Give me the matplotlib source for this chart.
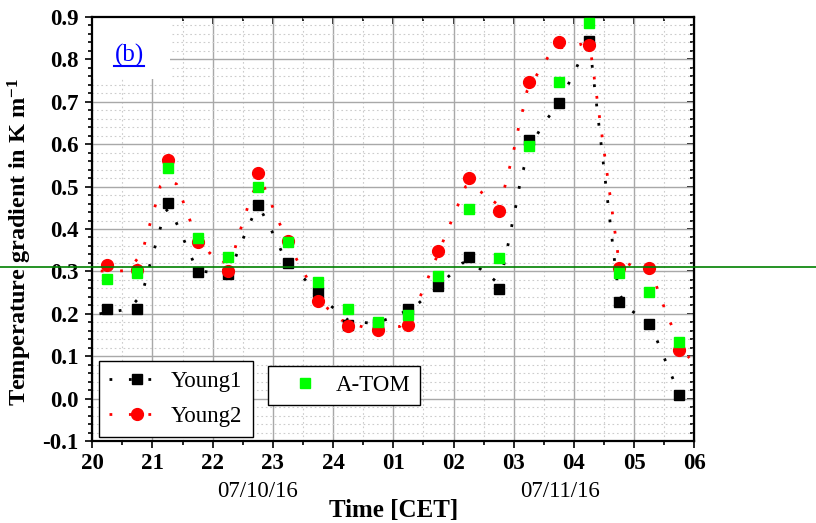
import matplotlib
matplotlib.use('Agg')
import matplotlib.pyplot as plt
from matplotlib.lines import Line2D
from matplotlib.patches import Rectangle
from matplotlib.ticker import MultipleLocator

plt.rcParams['font.family'] = ['Liberation Serif', 'DejaVu Serif']
plt.rcParams['mathtext.default'] = 'regular'

# time axis in hours after 20:00 CET (07/10/16)
hour_labels = ['20', '21', '22', '23', '24', '01', '02', '03', '04', '05', '06']

# half-hourly values (markers)
marker_hours = [0.25, 0.75, 1.25, 1.75, 2.25, 2.75, 3.25, 3.75, 4.25, 4.75,
                5.25, 5.75, 6.25, 6.75, 7.25, 7.75, 8.25, 8.75, 9.25, 9.75]
young1 = [0.211, 0.212, 0.462, 0.299, 0.295, 0.457, 0.320, 0.251, 0.174, 0.175,
          0.212, 0.266, 0.335, 0.259, 0.610, 0.698, 0.844, 0.228, 0.176, 0.008]
young2 = [0.315, 0.303, 0.563, 0.370, 0.302, 0.531, 0.372, 0.230, 0.172, 0.162,
          0.174, 0.348, 0.520, 0.442, 0.747, 0.840, 0.835, 0.308, 0.308, 0.115]
atom = [0.282, 0.297, 0.543, 0.378, 0.333, 0.498, 0.369, 0.274, 0.211, 0.181,
        0.197, 0.288, 0.447, 0.331, 0.596, 0.747, 0.887, 0.296, 0.251, 0.133]

# smoothed high-resolution curves (dotted lines)
young1_line_h = [0.12, 0.35, 0.60, 0.82, 0.90, 0.97, 1.05, 1.13, 1.21, 1.27, 1.34, 1.46,
                 1.57, 1.69, 1.85, 2.10, 2.35, 2.46, 2.57, 2.69, 2.80, 2.92, 3.05, 3.17,
                 3.43, 3.64, 3.96, 4.25, 4.60, 4.85, 5.11, 5.42, 5.64, 5.94, 6.15, 6.28,
                 6.45, 6.65, 6.82, 6.88, 6.94, 6.99, 7.05, 7.10, 7.17, 7.30, 7.49, 7.67,
                 7.82, 7.94, 8.07, 8.20, 8.28, 8.31, 8.67, 8.74, 8.90, 9.14, 9.37, 9.48,
                 9.59, 9.70, 9.80]
young1_line_v = [0.200, 0.205, 0.211, 0.244, 0.284, 0.323, 0.362, 0.402, 0.441, 0.448, 0.432, 0.395,
                 0.358, 0.319, 0.300, 0.295, 0.323, 0.362, 0.399, 0.437, 0.445, 0.412, 0.376, 0.339,
                 0.295, 0.266, 0.219, 0.185, 0.178, 0.185, 0.199, 0.225, 0.252, 0.291, 0.320, 0.322,
                 0.305, 0.277, 0.305, 0.346, 0.386, 0.425, 0.464, 0.505, 0.545, 0.600, 0.648, 0.681,
                 0.716, 0.751, 0.789, 0.825, 0.816, 0.775, 0.331, 0.250, 0.213, 0.189, 0.141, 0.103,
                 0.065, 0.028, 0.000]
young2_line_h = [0.14, 0.40, 0.60, 0.83, 0.90, 0.98, 1.06, 1.13, 1.27, 1.40, 1.50, 1.60,
                 1.69, 1.94, 2.15, 2.37, 2.45, 2.54, 2.62, 2.75, 2.85, 2.96, 3.07, 3.19,
                 3.42, 3.56, 3.69, 3.92, 4.14, 4.60, 5.11, 5.37, 5.48, 5.59, 5.70, 5.87,
                 5.98, 6.09, 6.20, 6.30, 6.46, 6.66, 6.83, 6.90, 6.97, 7.03, 7.09, 7.16,
                 7.22, 7.50, 7.66, 8.11, 8.28, 8.32, 8.74, 9.00, 9.11, 9.31, 9.41, 9.51,
                 9.62, 9.75, 9.92]
young2_line_v = [0.301, 0.300, 0.303, 0.344, 0.383, 0.423, 0.462, 0.501, 0.515, 0.506, 0.468, 0.430,
                 0.392, 0.345, 0.317, 0.354, 0.394, 0.432, 0.471, 0.510, 0.501, 0.464, 0.426, 0.388,
                 0.321, 0.286, 0.248, 0.211, 0.185, 0.164, 0.170, 0.214, 0.252, 0.289, 0.327, 0.386,
                 0.424, 0.462, 0.500, 0.505, 0.487, 0.458, 0.487, 0.527, 0.567, 0.604, 0.646, 0.686,
                 0.725, 0.791, 0.824, 0.836, 0.817, 0.775, 0.331, 0.310, 0.309, 0.289, 0.250, 0.211,
                 0.173, 0.120, 0.096]

date_labels = ['07/10/16', '07/11/16']
date_hours = [2.75, 7.77]
threshold = 0.31

fig = plt.figure(figsize=(8.16, 5.23), dpi=100)
ax = fig.add_axes([0.1131, 0.1568, 0.7378, 0.8107])

dots = (0, (1, 6))
l1, = ax.plot(young1_line_h, young1_line_v, color='black', lw=2, linestyle=dots, zorder=3)
l2, = ax.plot(young2_line_h, young2_line_v, color='red', lw=2, linestyle=dots, zorder=3)
m1, = ax.plot(marker_hours, young1, 's', color='black', ms=7.5, zorder=4)
m2, = ax.plot(marker_hours, young2, 'o', color='red', ms=8.5, zorder=5)
m3, = ax.plot(marker_hours, atom, 's', color='#00ff00', ms=7.5, zorder=6)

ax.axhline(threshold, xmin=-0.1533, xmax=1.202, color='green', lw=1.2, clip_on=False, zorder=7)

ax.set_xlim(0, 10)
ax.set_ylim(-0.1, 0.9)
ax.set_xticks(range(11))
ax.set_xticklabels(hour_labels)
ax.xaxis.set_minor_locator(MultipleLocator(0.5))
ax.yaxis.set_major_locator(MultipleLocator(0.1))
ax.yaxis.set_minor_locator(MultipleLocator(0.02))
ax.set_yticklabels([f'{v:.1f}' for v in ax.get_yticks()])

ax.set_axisbelow(True)
ax.grid(True, which='major', color='#a8a8a8', lw=1.0, ls='-')
ax.grid(True, which='minor', color='#cccccc', lw=0.8, ls=(0, (1.5, 2.5)))

ax.tick_params(which='both', direction='out', width=1.2, labelsize=16.5)
ax.tick_params(which='major', length=5)
ax.tick_params(which='minor', length=3)
ax.tick_params(axis='x', pad=4)
ax.tick_params(axis='y', pad=5)
for lab in ax.get_xticklabels() + ax.get_yticklabels():
    lab.set_fontweight('bold')
for sp in ax.spines.values():
    sp.set_linewidth(1.6)

secx = ax.secondary_xaxis('top')
secx.set_xticks(range(11))
secx.xaxis.set_minor_locator(MultipleLocator(0.5))
secx.tick_params(which='both', direction='in', labeltop=False, width=1.2)
secx.tick_params(which='major', length=5)
secx.tick_params(which='minor', length=3)
secy = ax.secondary_yaxis('right')
secy.yaxis.set_major_locator(MultipleLocator(0.1))
secy.yaxis.set_minor_locator(MultipleLocator(0.02))
secy.tick_params(which='both', direction='in', labelright=False, width=1.2)
secy.tick_params(which='major', length=5)
secy.tick_params(which='minor', length=3)

ax.set_xlabel('Time [CET]', fontsize=18, fontweight='bold', labelpad=18)
ax.set_ylabel('Temperature gradient in K m$^{-1}$', fontsize=17.5, fontweight='bold')
ax.yaxis.set_label_coords(-0.097, 0.47)

for d, h in zip(date_labels, date_hours):
    ax.text(h, -0.12, d, transform=ax.get_xaxis_transform(), ha='center', va='center', fontsize=16.5)

# white box behind the panel label
ax.add_patch(Rectangle((0, 0.854), 0.129, 0.146, transform=ax.transAxes,
                       facecolor='white', edgecolor='none', zorder=1))
tb = ax.text(0.61, 0.81, '(b)', color='blue', fontsize=18, ha='center', va='center', zorder=8)

leg1 = ax.legend([(l1, m1), (l2, m2)], ['Young1', 'Young2'], loc='lower left',
                 bbox_to_anchor=(0.011, 0.009), borderaxespad=0, fancybox=False,
                 edgecolor='black', framealpha=1, fontsize=16.5, handlelength=2.4,
                 handletextpad=0.3, labelspacing=0.6, borderpad=0.45)
leg1.get_frame().set_linewidth(1.0)
leg1.set_zorder(9)
ax.add_artist(leg1)
leg2 = ax.legend([m3], ['A-TOM'], loc='upper left', bbox_to_anchor=(0.292, 0.177),
                 borderaxespad=0, fancybox=False, edgecolor='black', framealpha=1,
                 fontsize=16.5, handlelength=2.4, handletextpad=0.15, borderpad=0.4)
leg2.get_frame().set_linewidth(1.0)
leg2.set_zorder(9)

# underline the panel label
fig.canvas.draw()
bb = tb.get_window_extent()
W, H = fig.bbox.width, fig.bbox.height
fig.add_artist(Line2D([bb.x0 / W, bb.x1 / W], [(bb.y0 + 1) / H] * 2,
                      transform=fig.transFigure, color='blue', lw=1.5))

fig.savefig('out.png', dpi=100)
